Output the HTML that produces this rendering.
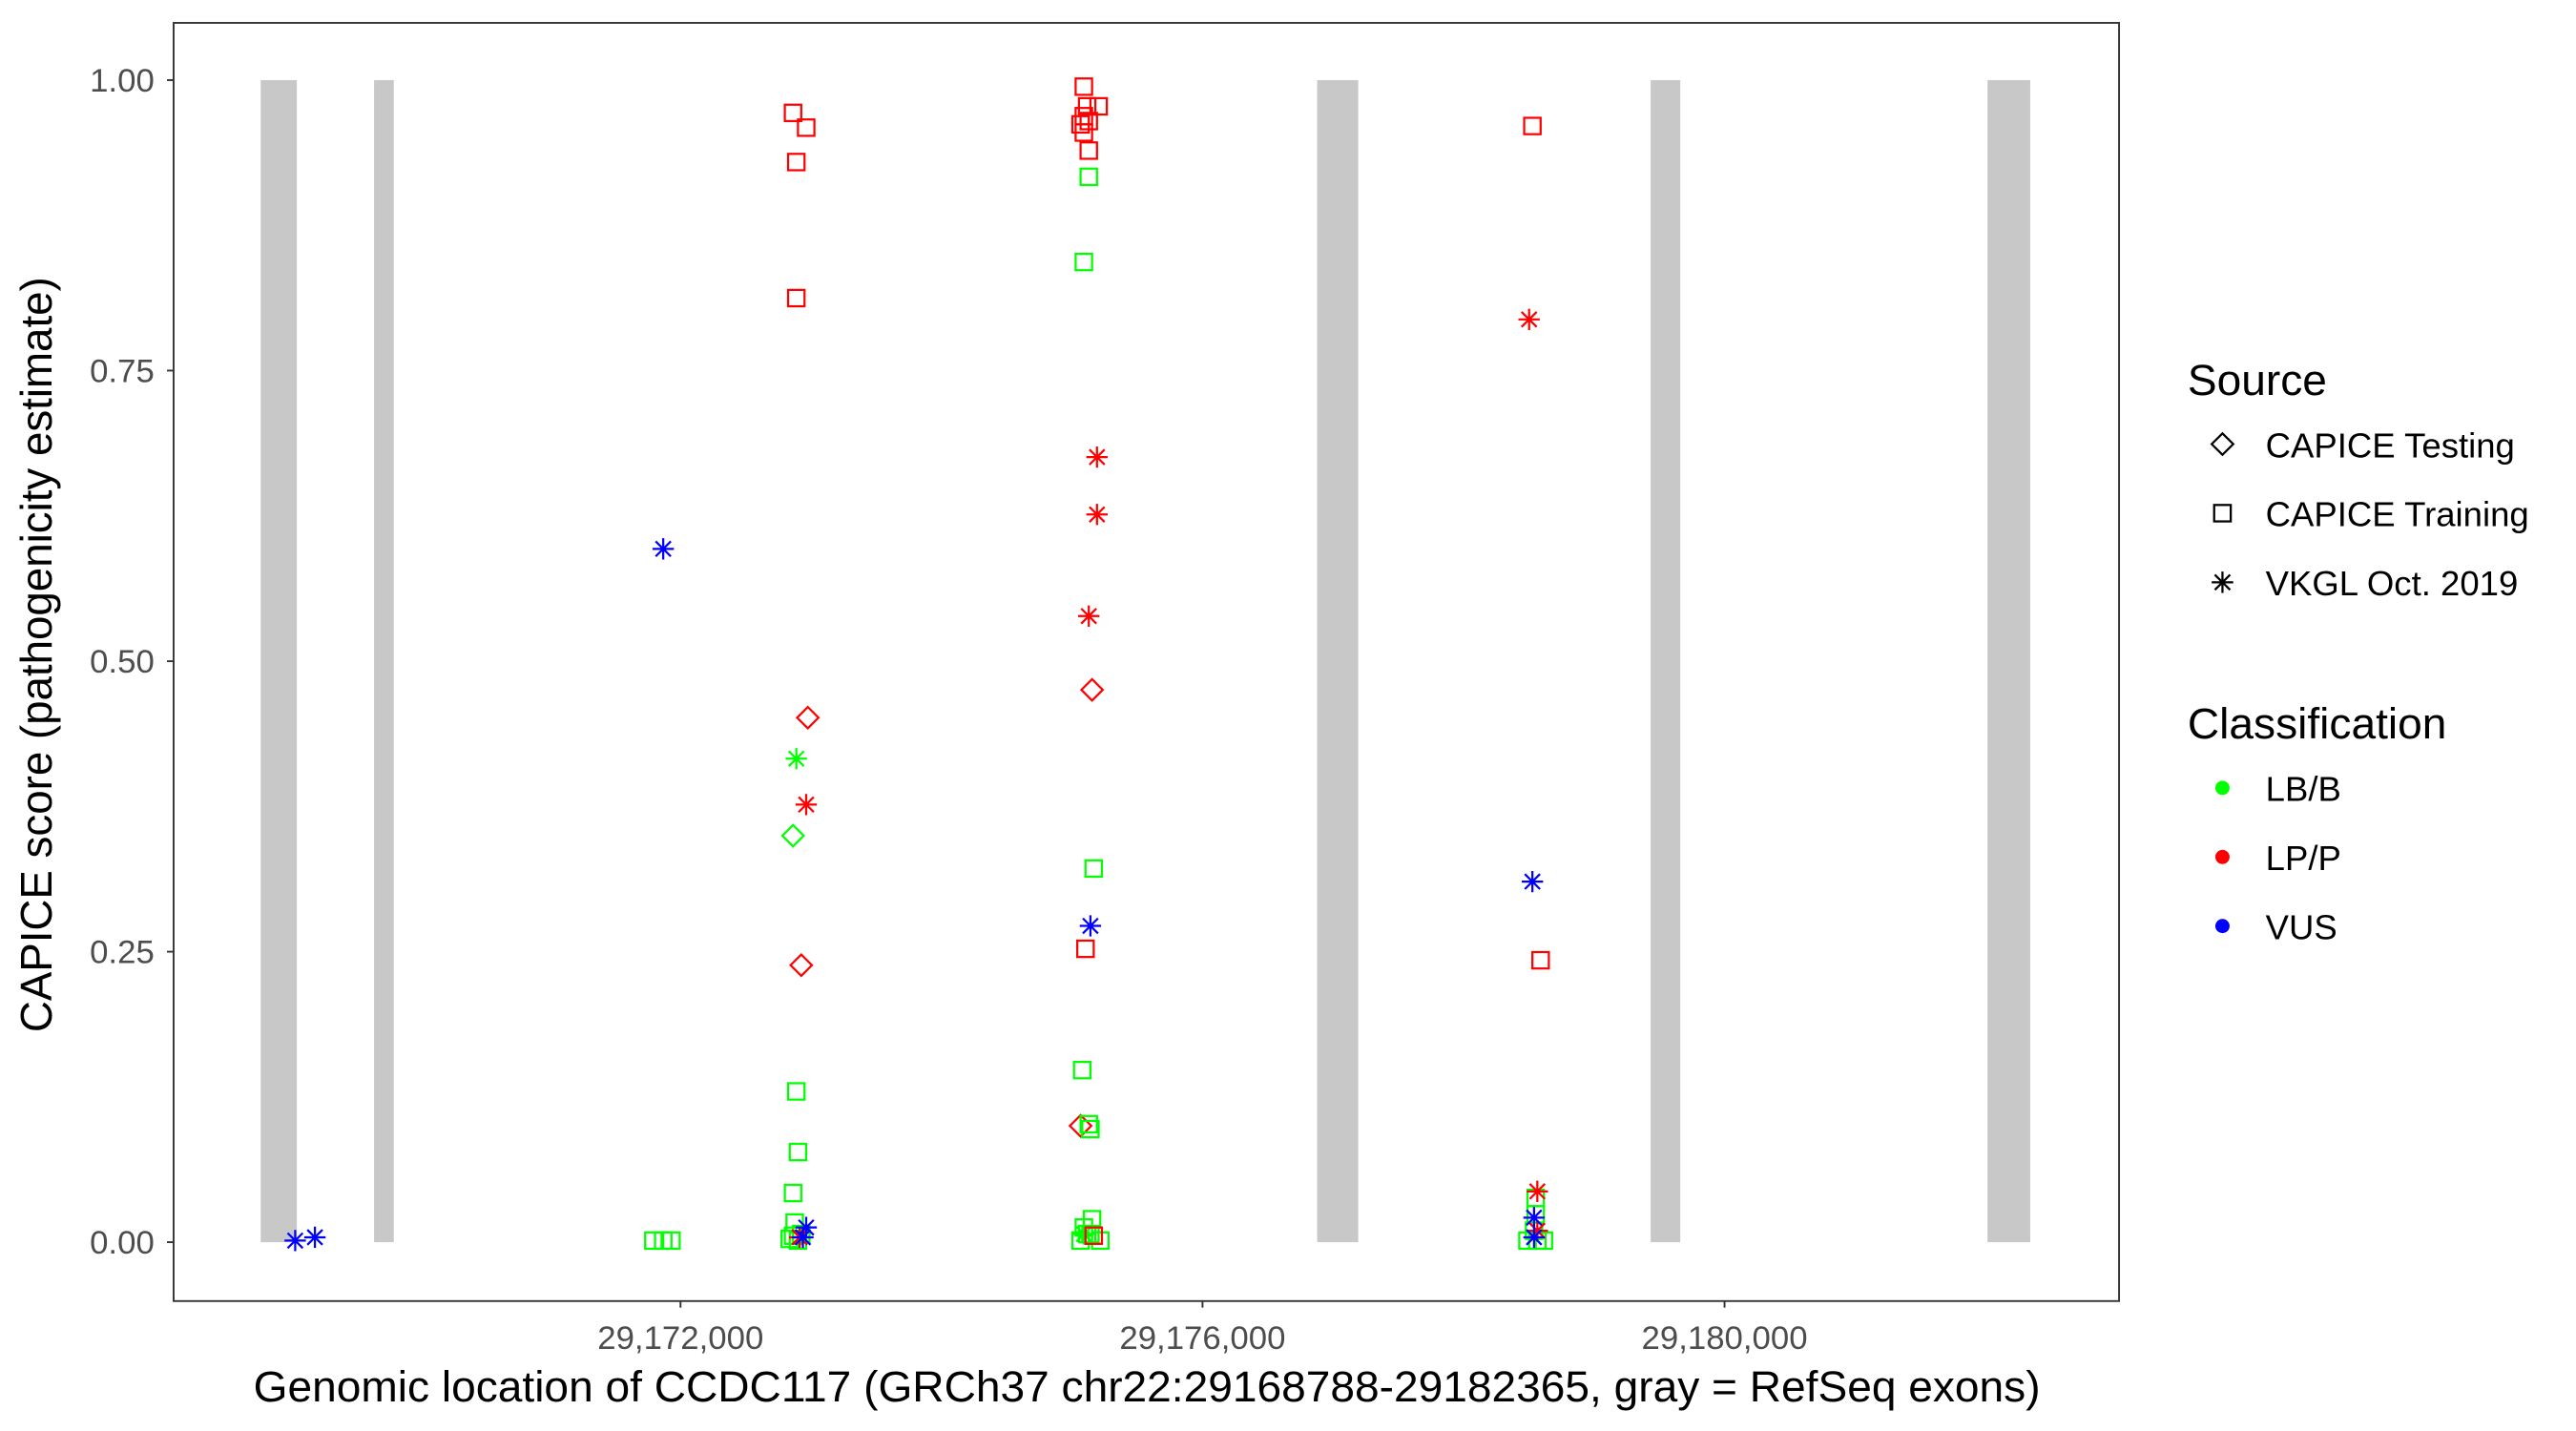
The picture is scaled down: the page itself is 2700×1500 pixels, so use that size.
<!DOCTYPE html>
<html><head><meta charset="utf-8"><style>html,body{margin:0;padding:0;background:#fff}svg{display:block}</style></head><body>
<svg width="2700" height="1500" viewBox="0 0 1552 870" preserveAspectRatio="none" xmlns="http://www.w3.org/2000/svg" font-family="Liberation Sans, Arial, sans-serif">
<defs>
<rect id="sq" x="-5" y="-5" width="10" height="10" fill="none" stroke-width="1.3"/>
<path id="di" d="M0,-6.5L6.5,0L0,6.5L-6.5,0Z" fill="none" stroke-width="1.3"/>
<path id="st" d="M0,-6.5V6.5M-6.5,0H6.5M-4.6,-4.6L4.6,4.6M-4.6,4.6L4.6,-4.6" fill="none" stroke-width="1.3"/>
</defs>
<rect width="1552" height="870" fill="#fff"/>
<g transform="translate(104.6,48.7) scale(0.9899,0.9965) translate(-106,-48)">
<g fill="#c8c8c8">
<rect x="159" y="48" width="22" height="709"/>
<rect x="228" y="48" width="12" height="709"/>
<rect x="802" y="48" width="25" height="709"/>
<rect x="1005" y="48" width="18" height="709"/>
<rect x="1210" y="48" width="26" height="709"/>
</g>
<g stroke="#0000ff"><use href="#st" x="180" y="756"/><use href="#st" x="192" y="754"/><use href="#st" x="404" y="334"/></g>
<g stroke="#00ff00"><use href="#sq" x="398" y="756"/><use href="#sq" x="404" y="756"/><use href="#sq" x="409" y="756"/></g>
<g stroke="#ff0000">
<use href="#sq" x="483" y="68"/><use href="#sq" x="491" y="77"/><use href="#sq" x="485" y="98"/><use href="#sq" x="485" y="181"/>
<use href="#di" x="492" y="437"/><use href="#di" x="488" y="588"/><use href="#st" x="491" y="490"/>
</g>
<g stroke="#00ff00">
<use href="#st" x="485" y="462"/><use href="#di" x="483" y="509"/>
<use href="#sq" x="485" y="665"/><use href="#sq" x="486" y="702"/><use href="#sq" x="483" y="727"/><use href="#sq" x="484" y="745"/>
<use href="#sq" x="481" y="755"/><use href="#sq" x="486" y="756"/><use href="#sq" x="488" y="752"/><use href="#sq" x="483" y="753"/>
</g>
<g stroke="#ff0000"><use href="#st" x="487" y="754"/></g>
<g stroke="#0000ff"><use href="#st" x="491" y="748"/><use href="#st" x="489" y="754"/></g>

<g stroke="#ff0000">
<use href="#sq" x="660" y="52"/><use href="#sq" x="669" y="64"/><use href="#sq" x="662" y="64"/><use href="#sq" x="660" y="70"/>
<use href="#sq" x="663" y="73"/><use href="#sq" x="658" y="75"/><use href="#sq" x="660" y="80"/><use href="#sq" x="663" y="91"/>
<use href="#sq" x="661" y="578"/>
<use href="#st" x="668" y="278"/><use href="#st" x="668" y="313"/><use href="#st" x="663" y="375"/>
<use href="#di" x="665" y="420"/><use href="#di" x="658" y="686"/>
</g>
<g stroke="#00ff00">
<use href="#sq" x="663" y="107"/><use href="#sq" x="660" y="159"/><use href="#sq" x="666" y="529"/><use href="#sq" x="659" y="652"/>
<use href="#sq" x="663" y="685"/><use href="#sq" x="664" y="688"/><use href="#sq" x="665" y="743"/><use href="#sq" x="660" y="748"/>
<use href="#sq" x="662" y="752"/><use href="#sq" x="658" y="756"/><use href="#sq" x="670" y="756"/><use href="#sq" x="664" y="752"/>
<use href="#st" x="660" y="752"/>
</g>
<g stroke="#ff0000"><use href="#sq" x="666" y="753"/></g>
<g stroke="#0000ff"><use href="#st" x="664" y="564"/></g>

<g stroke="#ff0000"><use href="#sq" x="933" y="76"/><use href="#sq" x="938" y="585"/><use href="#st" x="931" y="194"/></g>
<g stroke="#0000ff"><use href="#st" x="933" y="537"/></g>
<g stroke="#00ff00">
<use href="#sq" x="935" y="730"/><use href="#sq" x="935" y="740"/><use href="#sq" x="934" y="750"/><use href="#sq" x="930" y="756"/>
<use href="#sq" x="940" y="756"/><use href="#sq" x="936" y="756"/>
</g>
<g stroke="#ff0000"><use href="#st" x="936" y="726"/><use href="#st" x="936" y="750"/></g>
<g stroke="#0000ff"><use href="#st" x="934" y="742"/><use href="#st" x="934" y="754"/></g>
</g>

<rect x="104.6" y="13.9" width="1172.1" height="777.1" fill="none" stroke="#333" stroke-width="1.1"/>
<g stroke="#333" stroke-width="1.1">
<line x1="100.6" x2="104.6" y1="48.7" y2="48.7"/><line x1="100.6" x2="104.6" y1="225.3" y2="225.3"/>
<line x1="100.6" x2="104.6" y1="402" y2="402"/><line x1="100.6" x2="104.6" y1="578.6" y2="578.6"/>
<line x1="100.6" x2="104.6" y1="755.2" y2="755.2"/>
<line x1="410" x2="410" y1="791" y2="795"/><line x1="724.5" x2="724.5" y1="791" y2="795"/><line x1="1039" x2="1039" y1="791" y2="795"/>
</g>
<g fill="#4d4d4d" font-size="20" text-anchor="end">
<text x="93" y="55.7">1.00</text><text x="93" y="232.3">0.75</text><text x="93" y="409">0.50</text><text x="93" y="585.6">0.25</text><text x="93" y="762.2">0.00</text>
</g>
<g fill="#4d4d4d" font-size="20" text-anchor="middle">
<text x="410" y="820">29,172,000</text><text x="724.5" y="820">29,176,000</text><text x="1039" y="820">29,180,000</text>
</g>
<text x="691" y="852" font-size="26.5" text-anchor="middle" fill="#000">Genomic location of CCDC117 (GRCh37 chr22:29168788-29182365, gray = RefSeq exons)</text>
<text transform="translate(31,398) rotate(-90)" font-size="26.5" text-anchor="middle" fill="#000">CAPICE score (pathogenicity estimate)</text>
<text x="1318" y="240" font-size="26.5">Source</text>
<g stroke="#000"><use href="#di" x="1339" y="270"/><use href="#sq" x="1339" y="312"/><use href="#st" x="1339" y="354"/></g>
<g font-size="21"><text x="1365" y="278">CAPICE Testing</text><text x="1365" y="320">CAPICE Training</text><text x="1365" y="362">VKGL Oct. 2019</text></g>
<text x="1318" y="449" font-size="26.5">Classification</text>
<circle cx="1339" cy="479" r="4.3" fill="#00ff00"/><circle cx="1339" cy="521" r="4.3" fill="#ff0000"/><circle cx="1339" cy="563" r="4.3" fill="#0000ff"/>
<g font-size="21"><text x="1365" y="487">LB/B</text><text x="1365" y="529">LP/P</text><text x="1365" y="571">VUS</text></g>
</svg>
</body></html>
